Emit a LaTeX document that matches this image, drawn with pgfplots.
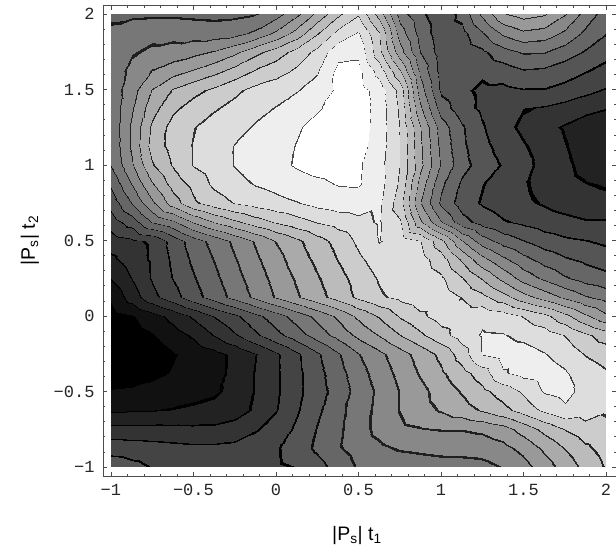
\documentclass[border=0pt]{standalone}
\usepackage{pgfplots}
\pgfplotsset{compat=1.18}
\usepackage{fontspec}
\setmainfont{Liberation Sans}
\newfontfamily\monofont{Liberation Mono}

% 16 grey bands, thin dark strips at the band limits stand for the contour lines
\pgfplotsset{
  colormap={mma}{
    gray(0cm)=(0); gray(0.97cm)=(0); gray(1.03cm)=(0.0667);
    gray(1.96cm)=(0); gray(2.04cm)=(0.1333);
    gray(2.96cm)=(0); gray(3.04cm)=(0.2);
    gray(3.96cm)=(0); gray(4.04cm)=(0.2667);
    gray(4.96cm)=(0); gray(5.04cm)=(0.3333);
    gray(5.955cm)=(0.05); gray(6.045cm)=(0.4);
    gray(6.955cm)=(0.1); gray(7.045cm)=(0.4667);
    gray(7.955cm)=(0.12); gray(8.045cm)=(0.5333);
    gray(8.955cm)=(0.12); gray(9.045cm)=(0.6);
    gray(9.955cm)=(0.15); gray(10.045cm)=(0.6667);
    gray(10.955cm)=(0.15); gray(11.045cm)=(0.7333);
    gray(11.96cm)=(0.15); gray(12.04cm)=(0.8);
    gray(12.972cm)=(0.2); gray(13.028cm)=(0.8667);
    gray(13.98cm)=(0.25); gray(14.02cm)=(0.9333);
    gray(14.988cm)=(0.3); gray(15.012cm)=(1);
    gray(16cm)=(1)
  },
}

\begin{document}
\begin{tikzpicture}
\begin{axis}[
  scale only axis,
  width=513pt, height=471pt,
  xmin=-1.048, xmax=2.061,
  ymin=-1.06, ymax=2.06,
  axis line style={draw=black!70, line width=0.8pt},
  tick style={draw=black!70, line width=0.6pt},
  tick align=inside,
  tick pos=both,
  xticklabel pos=lower,
  yticklabel pos=left,
  xtick={-1,-0.5,0,0.5,1,1.5,2},
  ytick={-1,-0.5,0,0.5,1,1.5,2},
  xticklabels={−1,−0.5,0,0.5,1,1.5,2},
  yticklabels={−1,−0.5,0,0.5,1,1.5,2},
  minor tick num=4,
  major tick length=4.5pt,
  minor tick length=2.5pt,
  ticklabel style={font=\monofont\fontsize{17}{17}\selectfont, text=black!85},
  xticklabel style={yshift=-5pt},
  yticklabel style={xshift=-5pt},
  xlabel={|P\textsubscript{s}| t\textsubscript{1}},
  ylabel={|P\textsubscript{s}| t\textsubscript{2}},
  every axis x label/.style={at={(axis description cs:0.495,0)}, anchor=base, yshift=-64pt, font=\fontsize{19.5}{20}\selectfont},
  every axis y label/.style={at={(axis description cs:-0.1326,0.5)}, rotate=90, anchor=base, font=\fontsize{19.5}{20}\selectfont},
  colormap name=mma,
  point meta min=0, point meta max=16,
]
\addplot[surf, shader=interp, colormap access=piecewise constant,
  mesh/rows=25, mesh/cols=25, point meta=explicit]
  table[row sep=\\, meta=z] {
x y z\\
-1 2 6.75\\ -0.875 2 6.8\\ -0.75 2 6.85\\ -0.625 2 6.85\\ -0.5 2 6.8\\ -0.375 2 6.75\\ -0.25 2 6.8\\ -0.125 2 6.95\\ 0 2 7.6\\ 0.125 2 8.8\\ 0.25 2 10.3\\ 0.375 2 11.8\\ 0.5 2 12.9\\ 0.625 2 10.6\\ 0.75 2 7.5\\ 0.875 2 6.2\\ 1 2 5.4\\ 1.125 2 6.3\\ 1.25 2 8.2\\ 1.375 2 9.9\\ 1.5 2 10.4\\ 1.625 2 10.1\\ 1.75 2 9.05\\ 1.875 2 7.6\\ 2 2 6.5\\
-1 1.875 7.25\\ -0.875 1.875 7.6\\ -0.75 1.875 7.7\\ -0.625 1.875 7.65\\ -0.5 1.875 7.55\\ -0.375 1.875 7.5\\ -0.25 1.875 7.65\\ -0.125 1.875 8.2\\ 0 1.875 9.2\\ 0.125 1.875 10.4\\ 0.25 1.875 11.9\\ 0.375 1.875 13.3\\ 0.5 1.875 14.1\\ 0.625 1.875 12.05\\ 0.75 1.875 8.5\\ 0.875 1.875 6.6\\ 1 1.875 5.4\\ 1.125 1.875 5.7\\ 1.25 1.875 6.9\\ 1.375 1.875 8.2\\ 1.5 1.875 8.8\\ 1.625 1.875 8.6\\ 1.75 1.875 7.8\\ 1.875 1.875 6.8\\ 2 1.875 6.05\\
-1 1.75 7.35\\ -0.875 1.75 7.9\\ -0.75 1.75 8.2\\ -0.625 1.75 8.4\\ -0.5 1.75 8.7\\ -0.375 1.75 9.1\\ -0.25 1.75 9.8\\ -0.125 1.75 10.7\\ 0 1.75 11.5\\ 0.125 1.75 12.4\\ 0.25 1.75 13.3\\ 0.375 1.75 14.7\\ 0.5 1.75 14.8\\ 0.625 1.75 12.3\\ 0.75 1.75 9.4\\ 0.875 1.75 7.0\\ 1 1.75 5.5\\ 1.125 1.75 5.3\\ 1.25 1.75 5.8\\ 1.375 1.75 6.6\\ 1.5 1.75 7.1\\ 1.625 1.75 7.05\\ 1.75 1.75 6.5\\ 1.875 1.75 5.9\\ 2 1.75 5.3\\
-1 1.625 7.4\\ -0.875 1.625 8.3\\ -0.75 1.625 9.05\\ -0.625 1.625 9.6\\ -0.5 1.625 10.1\\ -0.375 1.625 10.7\\ -0.25 1.625 11.4\\ -0.125 1.625 12.1\\ 0 1.625 12.6\\ 0.125 1.625 13.2\\ 0.25 1.625 13.9\\ 0.375 1.625 15.25\\ 0.5 1.625 15.3\\ 0.625 1.625 13.6\\ 0.75 1.625 11.05\\ 0.875 1.625 7.8\\ 1 1.625 5.6\\ 1.125 1.625 5.3\\ 1.25 1.625 5.2\\ 1.375 1.625 5.5\\ 1.5 1.625 5.9\\ 1.625 1.625 5.8\\ 1.75 1.625 5.4\\ 1.875 1.625 5.05\\ 2 1.625 4.7\\
-1 1.5 7.4\\ -0.875 1.5 8.6\\ -0.75 1.5 10.05\\ -0.625 1.5 11.1\\ -0.5 1.5 11.7\\ -0.375 1.5 12.2\\ -0.25 1.5 12.8\\ -0.125 1.5 13.3\\ 0 1.5 13.6\\ 0.125 1.5 13.95\\ 0.25 1.5 14.4\\ 0.375 1.5 15.2\\ 0.5 1.5 15.4\\ 0.625 1.5 14.6\\ 0.75 1.5 12.6\\ 0.875 1.5 8.5\\ 1 1.5 5.8\\ 1.125 1.5 5.2\\ 1.25 1.5 4.8\\ 1.375 1.5 4.75\\ 1.5 1.5 4.95\\ 1.625 1.5 4.95\\ 1.75 1.5 4.7\\ 1.875 1.5 4.3\\ 2 1.5 3.9\\
-1 1.375 7.35\\ -0.875 1.375 8.9\\ -0.75 1.375 10.6\\ -0.625 1.375 11.8\\ -0.5 1.375 12.4\\ -0.375 1.375 12.9\\ -0.25 1.375 13.3\\ -0.125 1.375 13.7\\ 0 1.375 14.05\\ 0.125 1.375 14.45\\ 0.25 1.375 14.9\\ 0.375 1.375 15.35\\ 0.5 1.375 15.5\\ 0.625 1.375 14.6\\ 0.75 1.375 12.8\\ 0.875 1.375 9.2\\ 1 1.375 6.5\\ 1.125 1.375 5.4\\ 1.25 1.375 4.8\\ 1.375 1.375 4.2\\ 1.5 1.375 4.05\\ 1.625 1.375 3.9\\ 1.75 1.375 3.6\\ 1.875 1.375 3.3\\ 2 1.375 3.05\\
-1 1.25 7.3\\ -0.875 1.25 9.2\\ -0.75 1.25 11.2\\ -0.625 1.25 12.4\\ -0.5 1.25 12.95\\ -0.375 1.25 13.4\\ -0.25 1.25 13.7\\ -0.125 1.25 14.1\\ 0 1.25 14.4\\ 0.125 1.25 14.9\\ 0.25 1.25 15.3\\ 0.375 1.25 15.55\\ 0.5 1.25 15.5\\ 0.625 1.25 14.6\\ 0.75 1.25 12.95\\ 0.875 1.25 10.05\\ 1 1.25 7.5\\ 1.125 1.25 6.1\\ 1.25 1.25 5.1\\ 1.375 1.25 4.3\\ 1.5 1.25 3.8\\ 1.625 1.25 3.3\\ 1.75 1.25 2.9\\ 1.875 1.25 2.5\\ 2 1.25 2.3\\
-1 1.125 7.2\\ -0.875 1.125 9.2\\ -0.75 1.125 11.4\\ -0.625 1.125 12.4\\ -0.5 1.125 13.05\\ -0.375 1.125 13.5\\ -0.25 1.125 14.05\\ -0.125 1.125 14.35\\ 0 1.125 14.65\\ 0.125 1.125 15.05\\ 0.25 1.125 15.35\\ 0.375 1.125 15.55\\ 0.5 1.125 15.4\\ 0.625 1.125 14.5\\ 0.75 1.125 12.97\\ 0.875 1.125 10.2\\ 1 1.125 7.7\\ 1.125 1.125 6.2\\ 1.25 1.125 5.3\\ 1.375 1.125 4.6\\ 1.5 1.125 4.1\\ 1.625 1.125 3.6\\ 1.75 1.125 3.05\\ 1.875 1.125 2.55\\ 2 1.125 2.2\\
-1 1 7.05\\ -0.875 1 8.9\\ -0.75 1 10.9\\ -0.625 1 12.1\\ -0.5 1 13.05\\ -0.375 1 13.55\\ -0.25 1 14.05\\ -0.125 1 14.4\\ 0 1 14.75\\ 0.125 1 15.1\\ 0.25 1 15.35\\ 0.375 1 15.45\\ 0.5 1 15.15\\ 0.625 1 14.35\\ 0.75 1 12.97\\ 0.875 1 10.3\\ 1 1 7.9\\ 1.125 1 6.35\\ 1.25 1 5.55\\ 1.375 1 4.9\\ 1.5 1 4.3\\ 1.625 1 3.7\\ 1.75 1 3.2\\ 1.875 1 2.7\\ 2 1 2.35\\
-1 0.875 6.2\\ -0.875 0.875 8.05\\ -0.75 0.875 9.9\\ -0.625 0.875 11.4\\ -0.5 0.875 12.3\\ -0.375 0.875 13.2\\ -0.25 0.875 13.7\\ -0.125 0.875 14.05\\ 0 0.875 14.3\\ 0.125 0.875 14.6\\ 0.25 0.875 14.8\\ 0.375 0.875 15.05\\ 0.5 0.875 15.1\\ 0.625 0.875 14.4\\ 0.75 0.875 12.8\\ 0.875 0.875 9.6\\ 1 0.875 7.2\\ 1.125 0.875 5.8\\ 1.25 0.875 5.05\\ 1.375 0.875 4.5\\ 1.5 0.875 4.1\\ 1.625 0.875 3.7\\ 1.75 0.875 3.3\\ 1.875 0.875 3.05\\ 2 0.875 2.9\\
-1 0.75 5.4\\ -0.875 0.75 7.05\\ -0.75 0.75 8.8\\ -0.625 0.75 10.5\\ -0.5 0.75 11.8\\ -0.375 0.75 12.5\\ -0.25 0.75 13.05\\ -0.125 0.75 13.4\\ 0 0.75 13.7\\ 0.125 0.75 13.95\\ 0.25 0.75 14.3\\ 0.375 0.75 14.5\\ 0.5 0.75 14.55\\ 0.625 0.75 14.2\\ 0.75 0.75 12.4\\ 0.875 0.75 9.05\\ 1 0.75 6.8\\ 1.125 0.75 5.5\\ 1.25 0.75 4.9\\ 1.375 0.75 4.5\\ 1.5 0.75 4.2\\ 1.625 0.75 3.9\\ 1.75 0.75 3.6\\ 1.875 0.75 3.4\\ 2 0.75 3.3\\
-1 0.625 4.5\\ -0.875 0.625 5.5\\ -0.75 0.625 7.05\\ -0.625 0.625 7.8\\ -0.5 0.625 9.05\\ -0.375 0.625 10.05\\ -0.25 0.625 10.8\\ -0.125 0.625 11.5\\ 0 0.625 12.1\\ 0.125 0.625 12.6\\ 0.25 0.625 13.05\\ 0.375 0.625 13.4\\ 0.5 0.625 13.7\\ 0.625 0.625 14.1\\ 0.75 0.625 13.1\\ 0.875 0.625 10.2\\ 1 0.625 8.05\\ 1.125 0.625 6.4\\ 1.25 0.625 5.6\\ 1.375 0.625 5.1\\ 1.5 0.625 4.8\\ 1.625 0.625 4.5\\ 1.75 0.625 4.3\\ 1.875 0.625 4.1\\ 2 0.625 4.1\\
-1 0.5 3.5\\ -0.875 0.5 3.8\\ -0.75 0.5 4.15\\ -0.625 0.5 5.4\\ -0.5 0.5 6.5\\ -0.375 0.5 7.35\\ -0.25 0.5 8.25\\ -0.125 0.5 9.1\\ 0 0.5 10.05\\ 0.125 0.5 10.8\\ 0.25 0.5 11.6\\ 0.375 0.5 12.35\\ 0.5 0.5 13.2\\ 0.625 0.5 14.05\\ 0.75 0.5 13.6\\ 0.875 0.5 13.05\\ 1 0.5 11.3\\ 1.125 0.5 9.05\\ 1.25 0.5 7.5\\ 1.375 0.5 6.6\\ 1.5 0.5 6.05\\ 1.625 0.5 5.5\\ 1.75 0.5 5.2\\ 1.875 0.5 5.05\\ 2 0.5 4.8\\
-1 0.375 2.8\\ -0.875 0.375 3.5\\ -0.75 0.375 4.15\\ -0.625 0.375 5.2\\ -0.5 0.375 6.2\\ -0.375 0.375 7.05\\ -0.25 0.375 7.95\\ -0.125 0.375 8.8\\ 0 0.375 9.65\\ 0.125 0.375 10.5\\ 0.25 0.375 11.25\\ 0.375 0.375 12.05\\ 0.5 0.375 12.8\\ 0.625 0.375 13.5\\ 0.75 0.375 13.75\\ 0.875 0.375 13.4\\ 1 0.375 12.45\\ 1.125 0.375 10.8\\ 1.25 0.375 9.3\\ 1.375 0.375 8.2\\ 1.5 0.375 7.3\\ 1.625 0.375 6.6\\ 1.75 0.375 6.1\\ 1.875 0.375 5.8\\ 2 0.375 5.5\\
-1 0.25 2.05\\ -0.875 0.25 3.05\\ -0.75 0.25 4.1\\ -0.625 0.25 5.05\\ -0.5 0.25 5.9\\ -0.375 0.25 6.75\\ -0.25 0.25 7.65\\ -0.125 0.25 8.5\\ 0 0.25 9.35\\ 0.125 0.25 10.15\\ 0.25 0.25 10.9\\ 0.375 0.25 11.65\\ 0.5 0.25 12.4\\ 0.625 0.25 13.1\\ 0.75 0.25 13.6\\ 0.875 0.25 13.65\\ 1 0.25 13.15\\ 1.125 0.25 12.05\\ 1.25 0.25 10.9\\ 1.375 0.25 9.7\\ 1.5 0.25 8.6\\ 1.625 0.25 7.8\\ 1.75 0.25 7.1\\ 1.875 0.25 6.6\\ 2 0.25 6.3\\
-1 0.125 1.2\\ -0.875 0.125 2.5\\ -0.75 0.125 3.7\\ -0.625 0.125 4.6\\ -0.5 0.125 5.6\\ -0.375 0.125 6.45\\ -0.25 0.125 7.35\\ -0.125 0.125 8.2\\ 0 0.125 9.1\\ 0.125 0.125 9.9\\ 0.25 0.125 10.65\\ 0.375 0.125 11.4\\ 0.5 0.125 12.2\\ 0.625 0.125 12.85\\ 0.75 0.125 13.25\\ 0.875 0.125 13.6\\ 1 0.125 13.55\\ 1.125 0.125 12.95\\ 1.25 0.125 12.3\\ 1.375 0.125 11.4\\ 1.5 0.125 10.4\\ 1.625 0.125 9.6\\ 1.75 0.125 8.8\\ 1.875 0.125 8.1\\ 2 0.125 7.6\\
-1 0 0.6\\ -0.875 0 0.95\\ -0.75 0 1.6\\ -0.625 0 2.35\\ -0.5 0 3.15\\ -0.375 0 4.05\\ -0.25 0 4.8\\ -0.125 0 5.7\\ 0 0 6.55\\ 0.125 0 7.45\\ 0.25 0 8.3\\ 0.375 0 9.2\\ 0.5 0 10.2\\ 0.625 0 11.1\\ 0.75 0 12.1\\ 0.875 0 12.8\\ 1 0 13.4\\ 1.125 0 13.6\\ 1.25 0 13.75\\ 1.375 0 13.5\\ 1.5 0 12.95\\ 1.625 0 12.3\\ 1.75 0 11.3\\ 1.875 0 10.2\\ 2 0 9.2\\
-1 -0.125 0.3\\ -0.875 -0.125 0.55\\ -0.75 -0.125 0.95\\ -0.625 -0.125 1.55\\ -0.5 -0.125 2.15\\ -0.375 -0.125 3.05\\ -0.25 -0.125 3.9\\ -0.125 -0.125 4.8\\ 0 -0.125 5.7\\ 0.125 -0.125 6.55\\ 0.25 -0.125 7.45\\ 0.375 -0.125 8.35\\ 0.5 -0.125 9.25\\ 0.625 -0.125 10.05\\ 0.75 -0.125 11.0\\ 0.875 -0.125 11.8\\ 1 -0.125 12.65\\ 1.125 -0.125 13.45\\ 1.25 -0.125 14.1\\ 1.375 -0.125 14.05\\ 1.5 -0.125 13.8\\ 1.625 -0.125 13.5\\ 1.75 -0.125 12.95\\ 1.875 -0.125 12.2\\ 2 -0.125 11.5\\
-1 -0.25 -0.3\\ -0.875 -0.25 0.0\\ -0.75 -0.25 0.4\\ -0.625 -0.25 0.95\\ -0.5 -0.25 1.3\\ -0.375 -0.25 1.7\\ -0.25 -0.25 2.25\\ -0.125 -0.25 2.95\\ 0 -0.25 3.85\\ 0.125 -0.25 4.85\\ 0.25 -0.25 5.85\\ 0.375 -0.25 6.9\\ 0.5 -0.25 7.95\\ 0.625 -0.25 8.75\\ 0.75 -0.25 9.6\\ 0.875 -0.25 10.4\\ 1 -0.25 11.25\\ 1.125 -0.25 12.5\\ 1.25 -0.25 14.05\\ 1.375 -0.25 14.4\\ 1.5 -0.25 14.35\\ 1.625 -0.25 14.05\\ 1.75 -0.25 13.6\\ 1.875 -0.25 12.95\\ 2 -0.25 12.6\\
-1 -0.375 0.2\\ -0.875 -0.375 0.4\\ -0.75 -0.375 0.75\\ -0.625 -0.375 1.1\\ -0.5 -0.375 1.35\\ -0.375 -0.375 1.65\\ -0.25 -0.375 2.3\\ -0.125 -0.375 3.05\\ 0 -0.375 3.85\\ 0.125 -0.375 4.75\\ 0.25 -0.375 5.65\\ 0.375 -0.375 6.6\\ 0.5 -0.375 7.6\\ 0.625 -0.375 8.45\\ 0.75 -0.375 9.3\\ 0.875 -0.375 10.1\\ 1 -0.375 10.85\\ 1.125 -0.375 11.65\\ 1.25 -0.375 12.5\\ 1.375 -0.375 13.9\\ 1.5 -0.375 14.3\\ 1.625 -0.375 14.5\\ 1.75 -0.375 14.1\\ 1.875 -0.375 13.5\\ 2 -0.375 13.1\\
-1 -0.5 1.1\\ -0.875 -0.5 1.2\\ -0.75 -0.5 1.35\\ -0.625 -0.5 1.5\\ -0.5 -0.5 1.7\\ -0.375 -0.5 1.85\\ -0.25 -0.5 2.3\\ -0.125 -0.5 3.05\\ 0 -0.5 3.85\\ 0.125 -0.5 4.75\\ 0.25 -0.5 5.6\\ 0.375 -0.5 6.4\\ 0.5 -0.5 7.4\\ 0.625 -0.5 8.2\\ 0.75 -0.5 9.05\\ 0.875 -0.5 9.7\\ 1 -0.5 10.45\\ 1.125 -0.5 11.1\\ 1.25 -0.5 11.75\\ 1.375 -0.5 12.45\\ 1.5 -0.5 13.15\\ 1.625 -0.5 14.1\\ 1.75 -0.5 14.35\\ 1.875 -0.5 13.6\\ 2 -0.5 13.2\\
-1 -0.625 1.85\\ -0.875 -0.625 1.9\\ -0.75 -0.625 1.95\\ -0.625 -0.625 2.05\\ -0.5 -0.625 2.15\\ -0.375 -0.625 2.3\\ -0.25 -0.625 2.6\\ -0.125 -0.625 3.15\\ 0 -0.625 3.95\\ 0.125 -0.625 4.9\\ 0.25 -0.625 5.8\\ 0.375 -0.625 6.7\\ 0.5 -0.625 7.5\\ 0.625 -0.625 8.3\\ 0.75 -0.625 9.05\\ 0.875 -0.625 9.6\\ 1 -0.625 10.1\\ 1.125 -0.625 10.6\\ 1.25 -0.625 11.1\\ 1.375 -0.625 11.7\\ 1.5 -0.625 12.4\\ 1.625 -0.625 13.2\\ 1.75 -0.625 13.8\\ 1.875 -0.625 13.5\\ 2 -0.625 13.1\\
-1 -0.75 3.3\\ -0.875 -0.75 3.3\\ -0.75 -0.75 3.3\\ -0.625 -0.75 3.25\\ -0.5 -0.75 3.2\\ -0.375 -0.75 3.2\\ -0.25 -0.75 3.4\\ -0.125 -0.75 3.9\\ 0 -0.75 4.4\\ 0.125 -0.75 5.2\\ 0.25 -0.75 6.05\\ 0.375 -0.75 6.8\\ 0.5 -0.75 7.6\\ 0.625 -0.75 8.3\\ 0.75 -0.75 8.8\\ 0.875 -0.75 8.95\\ 1 -0.75 9.05\\ 1.125 -0.75 9.05\\ 1.25 -0.75 9.2\\ 1.375 -0.75 9.6\\ 1.5 -0.75 10.4\\ 1.625 -0.75 11.3\\ 1.75 -0.75 12.05\\ 1.875 -0.75 12.6\\ 2 -0.75 12.8\\
-1 -0.875 4.6\\ -0.875 -0.875 4.5\\ -0.75 -0.875 4.4\\ -0.625 -0.875 4.3\\ -0.5 -0.875 4.2\\ -0.375 -0.875 4.2\\ -0.25 -0.875 4.3\\ -0.125 -0.875 4.5\\ 0 -0.875 4.9\\ 0.125 -0.875 5.5\\ 0.25 -0.875 6.2\\ 0.375 -0.875 6.9\\ 0.5 -0.875 7.4\\ 0.625 -0.875 7.8\\ 0.75 -0.875 8.1\\ 0.875 -0.875 8.2\\ 1 -0.875 8.3\\ 1.125 -0.875 8.35\\ 1.25 -0.875 8.4\\ 1.375 -0.875 8.7\\ 1.5 -0.875 9.3\\ 1.625 -0.875 10.2\\ 1.75 -0.875 11.05\\ 1.875 -0.875 11.8\\ 2 -0.875 12.4\\
-1 -1 5.6\\ -0.875 -1 5.3\\ -0.75 -1 4.95\\ -0.625 -1 4.85\\ -0.5 -1 4.9\\ -0.375 -1 4.85\\ -0.25 -1 4.8\\ -0.125 -1 4.8\\ 0 -1 4.85\\ 0.125 -1 5.05\\ 0.25 -1 5.6\\ 0.375 -1 6.4\\ 0.5 -1 7.1\\ 0.625 -1 7.3\\ 0.75 -1 7.4\\ 0.875 -1 7.5\\ 1 -1 7.6\\ 1.125 -1 7.6\\ 1.25 -1 7.7\\ 1.375 -1 8.05\\ 1.5 -1 8.6\\ 1.625 -1 9.5\\ 1.75 -1 10.4\\ 1.875 -1 11.3\\ 2 -1 12.1\\
};
\end{axis}
\pgfresetboundingbox
\path[use as bounding box] (-103pt,-74pt) rectangle (513pt,476pt);
\end{tikzpicture}
\end{document}
